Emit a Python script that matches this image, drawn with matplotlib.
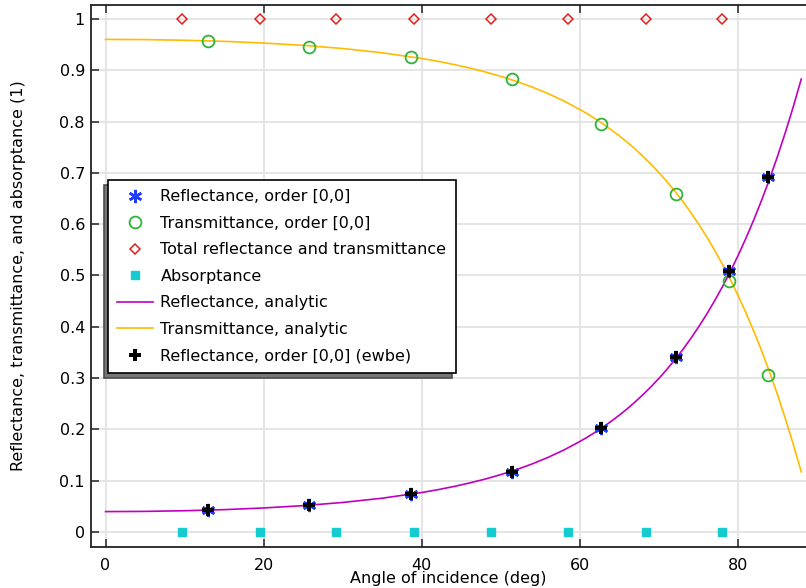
import numpy as np
import matplotlib
matplotlib.use("Agg")
import matplotlib.pyplot as plt

# ---------------- data ----------------
# simulated points (order [0,0])
angle_sim = [12.9, 25.8, 38.7, 51.4, 62.7, 72.2, 78.9, 83.8]
refl_sim = [0.043, 0.053, 0.074, 0.117, 0.203, 0.341, 0.509, 0.692]
trans_sim = [0.956, 0.946, 0.926, 0.883, 0.796, 0.659, 0.490, 0.307]
refl_ewbe = [0.043, 0.053, 0.074, 0.117, 0.203, 0.341, 0.509, 0.692]

# total and absorptance (sampled on another grid)
angle_tot = [9.7, 19.5, 29.2, 39.0, 48.8, 58.5, 68.3, 78.0]
total = [1, 1, 1, 1, 1, 1, 1, 1]
absorp = [0, 0, 0, 0, 0, 0, 0, 0]

# analytic curves
angle_an = [0, 5, 10, 15, 20, 25, 30, 35, 40, 42, 44, 46, 48, 50, 52, 54,
            56, 58, 60, 61, 62, 63, 64, 65, 66, 67, 68, 69, 70, 71, 72, 73,
            74, 75, 76, 77, 78, 79, 80, 81, 82, 83, 84, 85, 86, 87, 88]
refl_an = [0.0400, 0.0404, 0.0417, 0.0438, 0.0471, 0.0516, 0.0578, 0.0661,
           0.0772, 0.0826, 0.0887, 0.0956, 0.1033, 0.1121, 0.1219, 0.1331,
           0.1458, 0.1602, 0.1766, 0.1856, 0.1952, 0.2054, 0.2164, 0.2281,
           0.2405, 0.2539, 0.2681, 0.2833, 0.2996, 0.3170, 0.3356, 0.3554,
           0.3767, 0.3994, 0.4236, 0.4496, 0.4773, 0.5069, 0.5386, 0.5725,
           0.6086, 0.6472, 0.6884, 0.7323, 0.7793, 0.8293, 0.8826]
trans_an = [0.9600, 0.9596, 0.9583, 0.9562, 0.9529, 0.9484, 0.9422, 0.9339,
            0.9228, 0.9174, 0.9113, 0.9044, 0.8967, 0.8879, 0.8781, 0.8669,
            0.8542, 0.8398, 0.8234, 0.8144, 0.8048, 0.7946, 0.7836, 0.7719,
            0.7595, 0.7461, 0.7319, 0.7167, 0.7004, 0.6830, 0.6644, 0.6446,
            0.6233, 0.6006, 0.5764, 0.5504, 0.5227, 0.4931, 0.4614, 0.4275,
            0.3914, 0.3528, 0.3116, 0.2677, 0.2207, 0.1707, 0.1174]

# ---------------- plot ----------------
fig = plt.figure(figsize=(8.06, 5.88), dpi=100)
W, H = 806, 588
ax = fig.add_axes([90.5 / W, 1 - 546.5 / H, (806 - 90.5) / W, (546.5 - 5) / H])

blue = "#1f3cff"
green = "#2fb43a"
red = "#e0201c"
cyan = "#14cbd0"
magenta = "#c000c0"
orange = "#ffbb00"

ax.plot(angle_sim, refl_sim, ls="none", marker=(6, 2, 0), ms=9.5, mew=1.8,
        color=blue, label="Reflectance, order [0,0]", zorder=4)
ax.plot(angle_sim, trans_sim, ls="none", marker="o", ms=8.5, mfc="none",
        mew=1.3, color=green, label="Transmittance, order [0,0]", zorder=4)
ax.plot(angle_tot, total, ls="none", marker="D", ms=5.2, mfc="none",
        mew=1.1, color=red, label="Total reflectance and transmittance", zorder=4)
ax.plot(angle_tot, absorp, ls="none", marker="s", ms=5.5,
        color=cyan, label="Absorptance", zorder=4)
ax.plot(angle_an, refl_an, color=magenta, lw=1.2,
        label="Reflectance, analytic", zorder=3)
ax.plot(angle_an, trans_an, color=orange, lw=1.2,
        label="Transmittance, analytic", zorder=3)
ax.plot(angle_sim, refl_ewbe, ls="none", marker="P", ms=9, mew=0,
        color="black", label="Reflectance, order [0,0] (ewbe)", zorder=5)

ax.set_xlim(-1.9, 88.6)
ax.set_ylim(-0.028, 1.027)
ax.set_xticks([0, 20, 40, 60, 80])
ax.set_yticks(np.arange(0, 1.01, 0.1))
ax.set_yticklabels(["0", "0.1", "0.2", "0.3", "0.4", "0.5", "0.6", "0.7",
                    "0.8", "0.9", "1"])
ax.grid(True, color="#e3e3e3", lw=1.3)
ax.set_axisbelow(True)
ax.tick_params(direction="in", length=6, width=1.2, top=True, labelsize=11.5,
               color="#333333")
ax.tick_params(axis="x", pad=8)
ax.tick_params(axis="y", pad=4)
for s in ["left", "bottom", "top"]:
    ax.spines[s].set_linewidth(1.3)
    ax.spines[s].set_color("#222222")
ax.spines["right"].set_visible(False)

ax.set_xlabel("Angle of incidence (deg)", fontsize=11.5, labelpad=-1)
ax.set_ylabel("Reflectance, transmittance, and absorptance (1)", fontsize=11.5,
              labelpad=24)

leg = ax.legend(loc="upper left", bbox_to_anchor=((108 - 90.5) / (806 - 90.5),
                                                   1 - (180 - 5) / (546.5 - 5)),
                fontsize=11.5, frameon=True, fancybox=False, framealpha=1,
                edgecolor="black", borderaxespad=0, handlelength=2.25,
                labelspacing=0.72, borderpad=0.58, handletextpad=0.45,
                shadow={"ox": -2.6, "oy": -3.8, "facecolor": "#777777",
                        "alpha": 1})
leg.get_frame().set_linewidth(1.2)

fig.savefig("out.png", dpi=100)
